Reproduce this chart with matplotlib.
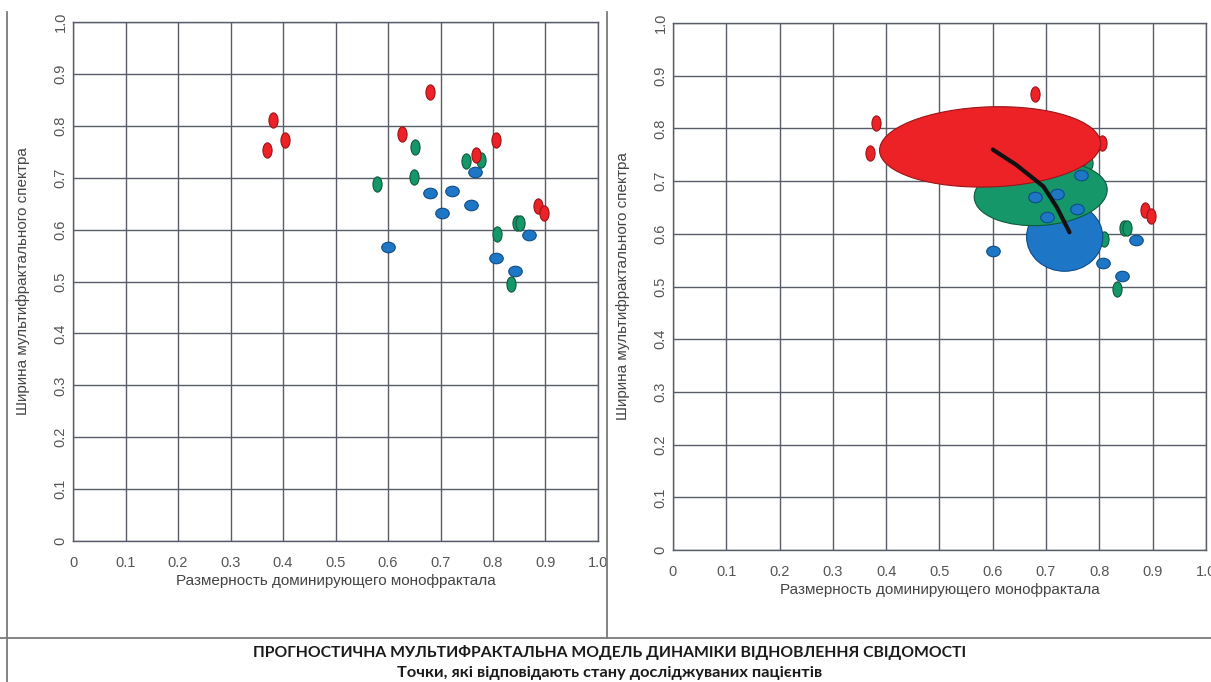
import matplotlib
matplotlib.use("Agg")
import matplotlib.pyplot as plt
from matplotlib.patches import Ellipse
from matplotlib.path import Path
from matplotlib.transforms import Affine2D
from matplotlib.lines import Line2D

# ---- data ----
ticks = [0, 0.1, 0.2, 0.3, 0.4, 0.5, 0.6, 0.7, 0.8, 0.9, 1.0]
tick_labels = ["0", "0.1", "0.2", "0.3", "0.4", "0.5", "0.6", "0.7", "0.8", "0.9", "1.0"]

red_x = [0.381, 0.404, 0.369, 0.626, 0.680, 0.805, 0.768, 0.886, 0.897]
red_y = [0.811, 0.772, 0.753, 0.785, 0.866, 0.772, 0.744, 0.645, 0.633]
green_x = [0.651, 0.748, 0.778, 0.649, 0.579, 0.846, 0.852, 0.808, 0.834]
green_y = [0.760, 0.733, 0.735, 0.702, 0.687, 0.612, 0.612, 0.591, 0.495]
blue_x = [0.765, 0.680, 0.721, 0.759, 0.702, 0.868, 0.600, 0.806, 0.842]
blue_y = [0.712, 0.670, 0.675, 0.647, 0.632, 0.589, 0.567, 0.545, 0.520]

# cluster regions (center x, center y, width, height, angle)
red_region = (0.595, 0.765, 0.415, 0.152, 2)
green_region = (0.690, 0.677, 0.250, 0.122, 4)
blue_region = (0.735, 0.594, 0.143, 0.130, 0)

# trajectory
traj_x = [0.600, 0.644, 0.695, 0.720, 0.744]
traj_y = [0.760, 0.731, 0.690, 0.651, 0.603]

xlabel = "Размерность доминирующего монофрактала"
ylabel = "Ширина мультифрактального спектра"
title1 = "ПРОГНОСТИЧНА МУЛЬТИФРАКТАЛЬНА МОДЕЛЬ ДИНАМІКИ ВІДНОВЛЕННЯ СВІДОМОСТІ"
title2 = "Точки, які відповідають стану досліджуваних пацієнтів"

RED, RED_E = "#ec2227", "#9a1418"
GREEN, GREEN_E = "#16976a", "#0c5a3c"
BLUE, BLUE_E = "#1d77c6", "#0f4c85"
GRID = "#575c68"

plt.rcParams['font.family'] = ['Liberation Sans', 'DejaVu Sans']

fig = plt.figure(figsize=(12.11, 6.82), dpi=100)

vert_marker = Path.unit_circle().transformed(Affine2D().scale(0.6, 1.0))
horiz_marker = Path.unit_circle().transformed(Affine2D().scale(1.0, 0.78))


def setup(ax):
    ax.set_xlim(0, 1)
    ax.set_ylim(0, 1)
    ax.set_xticks(ticks)
    ax.set_xticklabels(tick_labels)
    ax.set_yticks(ticks)
    ax.set_yticklabels(tick_labels, rotation=90, va="center")
    ax.grid(True, color=GRID, linewidth=1.0)
    ax.set_axisbelow(True)
    for s in ax.spines.values():
        s.set_color(GRID)
        s.set_linewidth(1.0)
    ax.tick_params(length=0, labelsize=10.5, labelcolor="#555555")
    ax.tick_params(axis="x", pad=11)
    ax.tick_params(axis="y", pad=3.8)
    ax.set_xlabel(xlabel, fontsize=11, color="#444444", labelpad=3)
    ax.set_ylabel(ylabel, fontsize=11, color="#444444", labelpad=17)


def draw_points(ax, zr=3, zg=3, zb=3):
    ax.scatter(green_x, green_y, marker=vert_marker, s=120, c=GREEN,
               edgecolors=GREEN_E, linewidths=0.8, zorder=zg)
    ax.scatter(red_x, red_y, marker=vert_marker, s=120, c=RED,
               edgecolors=RED_E, linewidths=0.8, zorder=zr)
    ax.scatter(blue_x, blue_y, marker=horiz_marker, s=95, c=BLUE,
               edgecolors=BLUE_E, linewidths=0.8, zorder=zb)


ax1 = fig.add_axes([0.0603, 0.2067, 0.4335, 0.7610])
setup(ax1)
draw_points(ax1)

ax2 = fig.add_axes([0.5557, 0.1935, 0.4401, 0.7727])
setup(ax2)
draw_points(ax2, zr=3, zg=3, zb=8)
for (cx, cy, w, h, a), fc, ec, z in [(blue_region, BLUE, BLUE_E, 4),
                                     (green_region, GREEN, GREEN_E, 5),
                                     (red_region, RED, RED_E, 6)]:
    ax2.add_patch(Ellipse((cx, cy), w, h, angle=a, facecolor=fc,
                          edgecolor=ec, linewidth=0.8, zorder=z))
ax2.plot(traj_x, traj_y, color="#111111", linewidth=3, zorder=9,
         solid_capstyle="round")

# frame lines
frame_c = "#7a7a7a"
fig.add_artist(Line2D([7/1211, 7/1211], [0, 1 - 12/682], color=frame_c, linewidth=1.3))
fig.add_artist(Line2D([607/1211, 607/1211], [1 - 638/682, 1 - 12/682], color=frame_c, linewidth=1.3))
fig.add_artist(Line2D([0, 1], [1 - 638/682, 1 - 638/682], color=frame_c, linewidth=1.3))

fig.text(0.5035, 1 - 652/682, title1, ha="center", va="center", fontsize=11.3,
         fontweight="bold", family=["Lato", "DejaVu Sans"], color="#1a1a1a")
fig.text(0.5035, 1 - 673/682, title2, ha="center", va="center", fontsize=11.8,
         fontweight="bold", family=["Lato", "DejaVu Sans"], color="#1a1a1a")

fig.savefig("out.png", dpi=100)
